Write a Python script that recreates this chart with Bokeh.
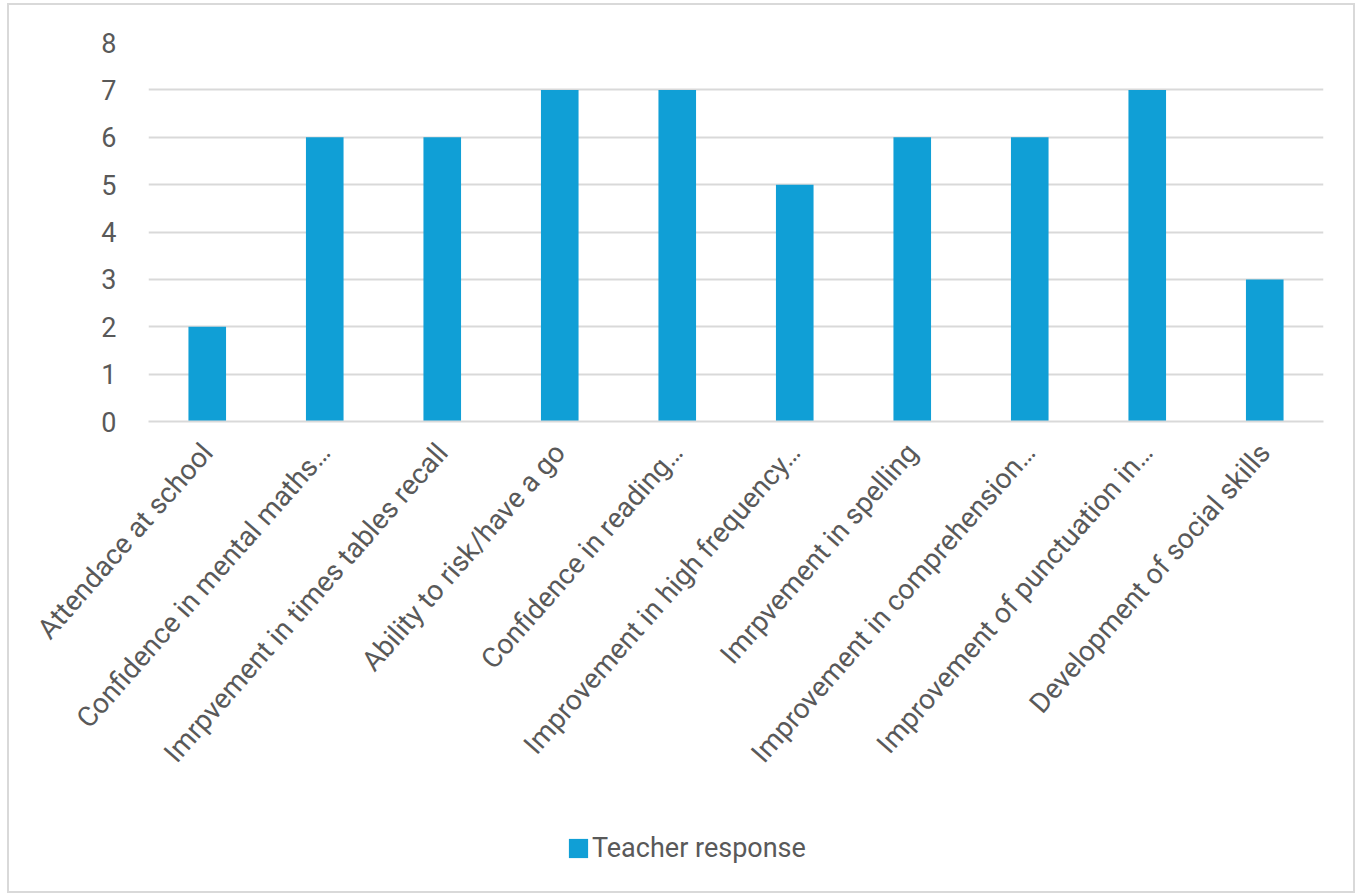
from bokeh.plotting import figure
from bokeh.layouts import column
from bokeh.models import ColumnDataSource, FactorRange, Range1d, FixedTicker, Legend, LegendItem
from bokeh.embed import file_html
from bokeh.resources import INLINE

categories = [
    "Attendace at school",
    "Confidence in mental maths…",
    "Imrpvement in times tables recall",
    "Ability to risk/have a go",
    "Confidence in reading…",
    "Improvement in high frequency…",
    "Imrpvement in spelling",
    "Improvement in comprehension…",
    "Improvement of punctuation in…",
    "Development of social skills",
]
values = [2, 6, 6, 7, 7, 5, 6, 6, 7, 3]
y_ticks = [0, 1, 2, 3, 4, 5, 6, 7, 8]
series_name = "Teacher response"

BAR = "#109FD6"
GRID = "#D9D9D9"
TEXT = "#595959"
FONT = "Roboto"

src = ColumnDataSource(dict(cat=categories, val=values))

# main chart
p = figure(
    width=1344, height=812,
    x_range=FactorRange(*categories, range_padding=0.0),
    y_range=Range1d(0, 8),
    output_backend="svg", toolbar_location=None,
    min_border_left=139, min_border_right=30, min_border_top=37, min_border_bottom=396,
)
p.x_range.factor_padding = 0.0
p.outline_line_color = None
p.background_fill_color = "white"
p.border_fill_color = "white"

r = p.vbar(x="cat", top="val", width=0.32, source=src, fill_color=BAR, line_color=None)

p.xgrid.grid_line_color = None
p.ygrid.grid_line_color = GRID
p.ygrid.grid_line_width = 2
p.yaxis.ticker = FixedTicker(ticks=y_ticks)

p.yaxis.axis_line_color = None
p.yaxis.major_tick_line_color = None
p.yaxis.minor_tick_line_color = None
p.yaxis.major_label_text_font = FONT
p.yaxis.major_label_text_font_size = "27px"
p.yaxis.major_label_text_color = TEXT
p.yaxis.major_label_standoff = 26

p.xaxis.axis_line_color = GRID
p.xaxis.axis_line_width = 2
p.xaxis.major_tick_line_color = None
p.xaxis.minor_tick_line_color = None
p.xaxis.major_label_orientation = 0.85
p.xaxis.major_label_text_font = FONT
p.xaxis.major_label_text_font_size = "28px"
p.xaxis.major_label_text_color = TEXT
p.xaxis.major_label_standoff = 20

# legend strip (same series, drawn out of view so only its legend entry shows)
lg = figure(
    width=1344, height=74,
    x_range=FactorRange(*categories), y_range=Range1d(100, 101),
    x_axis_location=None, y_axis_location=None,
    output_backend="svg", toolbar_location=None,
    min_border_left=0, min_border_right=0, min_border_top=0, min_border_bottom=0,
)
lg.outline_line_color = None
lg.grid.visible = False
lg.background_fill_color = "white"
lg.border_fill_color = "white"
r2 = lg.vbar(x="cat", top="val", width=0.32, source=src, fill_color=BAR, line_color=None)

legend = Legend(items=[LegendItem(label=series_name, renderers=[r2])],
                orientation="horizontal", location=(418, 27),
                label_text_font=FONT, label_text_font_size="27px", label_text_color=TEXT,
                glyph_width=24, glyph_height=24, label_standoff=2,
                border_line_color=None, background_fill_alpha=0, margin=0, padding=4)
lg.add_layout(legend, "center")

layout = column(p, lg, spacing=0,
                styles={"border": "2px solid #D9D9D9", "margin-left": "7px", "margin-top": "3px",
                        "background-color": "white"})

open("out.html", "w").write(file_html(layout, INLINE))
